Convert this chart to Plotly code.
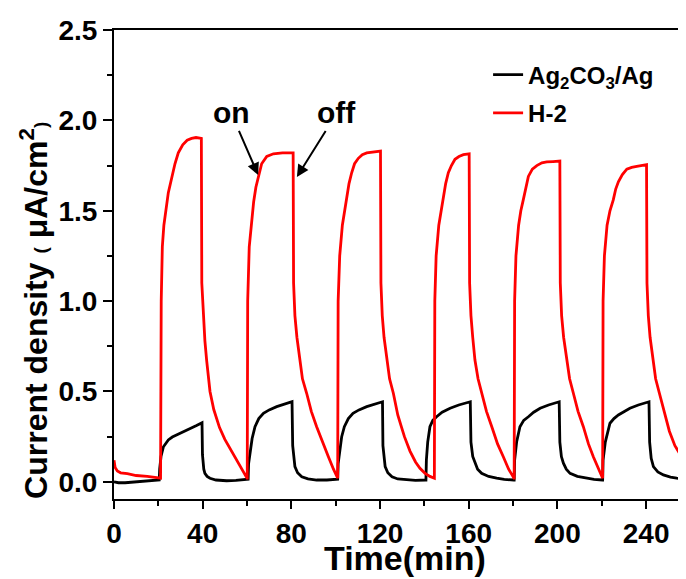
import plotly.graph_objects as go

# ---- data ----
red_time = [0, 0.5, 1.5, 3, 6, 10, 15, 20.8,
            21.0, 21.3, 21.8, 22.5, 23.5, 24.5, 26, 27.5, 29, 31, 33, 35, 37, 39.4,
            39.6, 40.3, 41, 41.8, 43.3, 45, 47.6, 50, 53.7, 56, 58.2, 60.0,
            60.1, 60.3, 61, 62, 63, 64, 65.1, 66.6, 68.9, 71.9, 76, 80.8,
            81.0, 81.6, 82.5, 83.9, 85, 86.9, 89, 91.4, 94, 96.7, 99, 100.8,
            100.9, 101.1, 101.8, 103, 104, 105, 106, 107.2, 108.5, 110.2, 112, 114, 117, 120.2,
            120.4, 121, 121.8, 123, 124.3, 126, 128, 129.5, 131, 133.5, 136, 138, 140.3, 142.5, 144.4,
            144.5, 144.7, 145.3, 146.5, 147.5, 148.5, 149.6, 150.8, 152.2, 153.8, 155.6, 157.6, 160.2,
            160.4, 161, 161.8, 162.8, 164.2, 165.8, 168, 170.4, 173, 175.6, 178, 180.4,
            180.5, 180.7, 181.3, 182.5, 183.5, 184.6, 185.7, 186.9, 188.7, 190.7, 193, 195.2, 198, 201.1,
            201.3, 201.9, 202.8, 204.2, 205.5, 207.2, 209.3, 211.7, 214, 216.2, 218.5, 220.3,
            220.4, 220.6, 221.2, 222.4, 223.7, 225.2, 226.3, 227.5, 229.3, 231.3, 233.5, 235.8, 238, 240.2,
            240.4, 241, 241.8, 243, 244.3, 246, 248, 250.5, 253, 255.5, 258]
red_current = [0.12, 0.08, 0.06, 0.05, 0.045, 0.035, 0.03, 0.02,
               0.02, 1.0, 1.3, 1.42, 1.52, 1.6, 1.68, 1.76, 1.82, 1.865, 1.89, 1.9, 1.905, 1.9,
               1.1, 0.9, 0.78, 0.67, 0.5, 0.4, 0.3, 0.235, 0.155, 0.1, 0.06, 0.02,
               0.02, 1.0, 1.3, 1.45, 1.55, 1.63, 1.69, 1.76, 1.8, 1.815, 1.82, 1.82,
               1.1, 0.92, 0.8, 0.674, 0.57, 0.49, 0.39, 0.305, 0.22, 0.139, 0.07, 0.02,
               0.02, 1.0, 1.25, 1.42, 1.5, 1.56, 1.65, 1.71, 1.76, 1.79, 1.81, 1.82, 1.825, 1.83,
               1.1, 0.92, 0.8, 0.674, 0.57, 0.49, 0.37, 0.31, 0.25, 0.17, 0.11, 0.075, 0.047, 0.03, 0.02,
               0.02, 1.0, 1.25, 1.42, 1.5, 1.56, 1.65, 1.71, 1.75, 1.785, 1.8, 1.81, 1.815,
               1.1, 0.92, 0.8, 0.674, 0.57, 0.49, 0.39, 0.305, 0.21, 0.139, 0.07, 0.02,
               0.02, 1.0, 1.25, 1.42, 1.5, 1.56, 1.63, 1.69, 1.73, 1.75, 1.765, 1.77, 1.772, 1.775,
               1.1, 0.92, 0.8, 0.674, 0.57, 0.49, 0.39, 0.305, 0.21, 0.139, 0.07, 0.02,
               0.02, 1.0, 1.25, 1.42, 1.5, 1.56, 1.62, 1.66, 1.7, 1.73, 1.74, 1.745, 1.75, 1.755,
               1.1, 0.92, 0.8, 0.674, 0.57, 0.49, 0.39, 0.28, 0.2, 0.15, 0.1]

black_time = [0, 2, 5, 10, 15, 20.3,
              20.4, 20.6, 21.2, 22.3, 23.3, 24.5, 26.3, 28.3, 31, 34.3, 37, 39.7,
              39.9, 40.5, 41, 42, 43.3, 46, 50.8, 55, 60.3,
              60.5, 60.7, 61.3, 62.3, 63.6, 65.3, 67.4, 70, 73.4, 76.5, 80.3,
              80.6, 81, 81.6, 82.8, 84.7, 87.5, 91.4, 96, 100.8,
              100.9, 101.1, 101.7, 102.7, 103.9, 105.7, 107.8, 110.5, 114, 117.5, 121.1,
              121.3, 121.7, 122.3, 123.5, 125.4, 128, 132, 136, 140.6,
              140.7, 140.9, 141.5, 142.5, 143.8, 145.5, 148, 151.6, 155.5, 160.7,
              161, 161.8, 162.8, 164, 165.8, 169, 172.6, 176, 180.3,
              180.5, 180.7, 181.6, 183.1, 184.8, 186.9, 189.3, 192.2, 196, 200.8,
              201.1, 201.8, 202.7, 204, 205.7, 209, 213.2, 216.5, 220.3,
              220.4, 220.6, 221.6, 223.7, 225.5, 227.5, 230, 232.7, 236.5, 241.3,
              241.6, 242.3, 243.3, 245.3, 247.8, 251, 253.8, 256.5, 257.5, 258]
black_current = [0.0, -0.005, -0.005, 0.0, 0.005, 0.01,
                 0.01, 0.07, 0.14, 0.194, 0.215, 0.232, 0.248, 0.259, 0.276, 0.296, 0.31, 0.327,
                 0.15, 0.07, 0.047, 0.03, 0.02, 0.01, 0.006, 0.008, 0.015,
                 0.015, 0.1, 0.158, 0.24, 0.305, 0.35, 0.379, 0.398, 0.416, 0.43, 0.443,
                 0.2, 0.13, 0.084, 0.05, 0.028, 0.016, 0.01, 0.01, 0.015,
                 0.015, 0.1, 0.17, 0.25, 0.305, 0.35, 0.379, 0.398, 0.416, 0.43, 0.443,
                 0.2, 0.13, 0.084, 0.05, 0.028, 0.016, 0.01, 0.008, 0.01,
                 0.01, 0.12, 0.22, 0.305, 0.34, 0.36, 0.385, 0.407, 0.425, 0.443,
                 0.22, 0.14, 0.103, 0.07, 0.047, 0.03, 0.02, 0.013, 0.01,
                 0.01, 0.12, 0.22, 0.305, 0.34, 0.36, 0.385, 0.407, 0.425, 0.443,
                 0.22, 0.14, 0.103, 0.07, 0.047, 0.03, 0.02, 0.013, 0.01,
                 0.01, 0.12, 0.22, 0.324, 0.35, 0.37, 0.39, 0.407, 0.425, 0.443,
                 0.22, 0.13, 0.084, 0.055, 0.038, 0.026, 0.02, 0.015, 0.02, 0.05]

series_names = ["Ag<sub>2</sub>CO<sub>3</sub>/Ag", "H-2"]
x_tick_values = [0, 40, 80, 120, 160, 200, 240]
y_tick_values = [0.0, 0.5, 1.0, 1.5, 2.0, 2.5]
x_title = "Time(min)"
y_title = ("Current density <span style='font-size:19px'>(</span> "
           "μA/cm<sup>2</sup><span style='font-size:19px'>)</span>")

FONT = "Liberation Sans, Arial, sans-serif"

fig = go.Figure()
fig.add_trace(go.Scatter(x=black_time, y=black_current, mode="lines",
                         name=series_names[0], legendgroup="a",
                         line=dict(color="#000000", width=2.8)))
fig.add_trace(go.Scatter(x=red_time, y=red_current, mode="lines",
                         name=series_names[1], legendgroup="b",
                         line=dict(color="#ff0000", width=2.8)))

axis_common = dict(showgrid=False, zeroline=False, showline=True, automargin=False,
                   linecolor="black", linewidth=2, ticks="outside",
                   tickwidth=2, tickcolor="black",
                   tickfont=dict(family=FONT, size=28, color="black", weight="bold"))

fig.update_xaxes(range=[0, 258], tickvals=x_tick_values, ticklen=8, mirror=True,
                 minor=dict(dtick=20, tick0=0, ticks="outside", ticklen=5,
                            tickwidth=2, tickcolor="black"),
                 **axis_common)
fig.update_yaxes(range=[-0.095, 2.5], tickvals=y_tick_values, tickformat=".1f",
                 ticklen=9,
                 minor=dict(dtick=0.25, tick0=0, ticks="outside", ticklen=5,
                            tickwidth=2, tickcolor="black"),
                 **axis_common)

# the page body adds an 8px offset, so the figure is 8px smaller than the window
fig.update_layout(
    width=678, height=571,
    margin=dict(l=106, r=0, t=22, b=80, autoexpand=False),
    paper_bgcolor="white", plot_bgcolor="white",
    font=dict(family=FONT, color="black", weight="bold"),
    showlegend=True,
    legend=dict(x=0.654, y=0.952, xanchor="left", yanchor="top",
                bgcolor="rgba(0,0,0,0)", tracegroupgap=4,
                font=dict(family=FONT, size=24, color="black", weight="bold")),
)

# axis titles
fig.add_annotation(xref="paper", yref="paper", x=0.509, y=-0.125,
                   text=x_title, showarrow=False, xanchor="center", yanchor="middle",
                   font=dict(family=FONT, size=34, color="black", weight="bold"))
fig.add_annotation(xref="paper", yref="paper", x=-0.14, y=0.403,
                   text=y_title, showarrow=False, textangle=-90,
                   xanchor="center", yanchor="middle",
                   font=dict(family=FONT, size=32, color="black", weight="bold"))

# on / off labels with arrows
fig.add_annotation(x=65, y=1.698, ax=-27, ay=-62, text="on", showarrow=True,
                   arrowhead=2, arrowsize=1.2, arrowwidth=2, arrowcolor="black",
                   font=dict(family=FONT, size=30, color="black", weight="bold"))
fig.add_annotation(x=82.5, y=1.687, ax=40, ay=-64, text="off", showarrow=True,
                   arrowhead=2, arrowsize=1.2, arrowwidth=2, arrowcolor="black",
                   font=dict(family=FONT, size=30, color="black", weight="bold"))

fig.write_html("out.html")
